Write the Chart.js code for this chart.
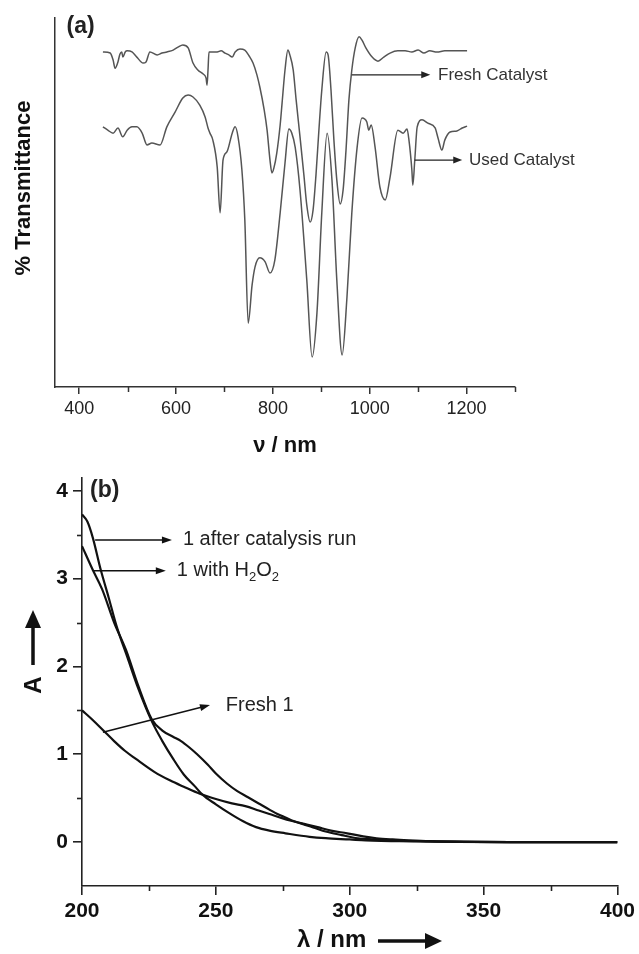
<!DOCTYPE html>
<html>
<head>
<meta charset="utf-8">
<title>IR and UV-vis spectra</title>
<script src="https://cdn.jsdelivr.net/npm/chart.js@4.4.1/dist/chart.umd.min.js"></script>
<style>
  html, body { margin: 0; padding: 0; background: #fff; }
  #wrap { width: 639px; height: 954px; }
  canvas { display: block; }
</style>
</head>
<body>
<div id="wrap">
  <canvas id="irChart" width="639" height="460"></canvas>
  <canvas id="uvChart" width="639" height="494"></canvas>
</div>
<script>
"use strict";

/**************************************************************
 * Data - panel (a), IR spectra (arbitrary % transmittance)
 **************************************************************/
const freshNm = [
  449, 464, 470, 474, 480, 484, 488, 490, 495, 499, 509, 519, 532, 538, 546,
  561, 571, 581, 594, 604, 614, 625, 635, 645, 656, 662, 664, 666, 668, 676,
  685, 693, 701, 709, 716, 722, 732, 742, 751, 759, 767, 773, 782, 788, 794,
  798, 802, 808, 815, 819, 825, 831, 835, 842, 848, 856, 864, 870, 877, 883,
  889, 895, 901, 910, 914, 920, 926, 932, 939, 945, 951, 957, 963, 970, 978,
  984, 992, 1005, 1017, 1029, 1042, 1058, 1073, 1087, 1100, 1112, 1124, 1139,
  1155, 1176, 1201,
];
const freshT = [
  90.8, 90.5, 88.6, 86.4, 88.1, 90.2, 90.8, 89.4, 90.8, 91.1, 90.8, 89.4, 87.8,
  88.1, 90.8, 90.0, 90.5, 90.8, 91.3, 92.1, 92.7, 91.9, 87.8, 85.9, 84.8, 83.7,
  81.8, 85.9, 90.8, 90.8, 90.8, 91.1, 90.5, 90.0, 89.4, 90.8, 91.6, 91.3, 89.7,
  87.8, 84.6, 81.3, 75.1, 69.6, 61.5, 58.0, 59.3, 63.4, 71.0, 77.0, 85.9, 91.3,
  90.0, 85.9, 77.8, 67.8, 57.5, 49.3, 44.7, 48.0, 57.5, 69.6, 80.5, 90.8, 90.0,
  80.5, 66.9, 56.1, 49.6, 53.4, 64.2, 77.8, 85.9, 91.9, 94.9, 94.0, 91.9, 89.4,
  88.3, 89.4, 90.5, 91.1, 91.1, 90.8, 91.3, 90.5, 91.1, 90.8, 91.1, 91.1, 91.1,
];

const usedNm = [
  449, 459, 470, 480, 490, 499, 509, 519, 530, 540, 550, 567, 581, 598, 614,
  625, 635, 649, 660, 666, 670, 676, 685, 691, 697, 705, 716, 722, 728, 736,
  742, 749, 757, 763, 773, 784, 794, 804, 815, 825, 833, 839, 846, 856, 870,
  881, 891, 901, 912, 922, 932, 943, 953, 963, 974, 984, 994, 998, 1003, 1011,
  1021, 1032, 1042, 1058, 1069, 1077, 1081, 1087, 1089, 1093, 1098, 1108, 1120,
  1135, 1141, 1149, 1155, 1166, 1180, 1191, 1201,
];
const usedT = [
  70.5, 69.6, 68.8, 70.2, 67.8, 69.6, 70.5, 70.5, 68.8, 65.6, 66.1, 65.6, 70.5,
  74.5, 78.3, 79.1, 78.6, 76.4, 73.2, 70.2, 68.8, 66.9, 59.6, 47.2, 61.5, 63.7,
  68.8, 70.5, 67.8, 58.8, 45.3, 17.3, 27.6, 32.5, 35.0, 33.9, 30.9, 34.4, 47.2,
  60.7, 69.9, 68.8, 65.0, 53.4, 29.0, 8.1, 20.1, 47.2, 68.8, 56.1, 29.0, 8.7,
  24.4, 47.2, 65.0, 72.9, 71.8, 69.6, 71.0, 65.0, 54.2, 50.7, 56.9, 69.6, 68.8,
  69.9, 66.9, 58.8, 54.7, 61.5, 70.5, 72.4, 71.5, 70.2, 67.5, 64.2, 66.9, 69.1,
  69.4, 70.2, 70.7,
];

const irMajorTicks = [400, 600, 800, 1000, 1200];
const irMinorTicks = [500, 700, 900, 1100, 1300];

/**************************************************************
 * Data - panel (b), UV-vis absorbance
 **************************************************************/
const afterRunNm = [
  200, 202, 204, 207, 210, 213, 217, 221, 226, 230, 234, 238, 242, 245, 250,
  255, 260, 265, 270, 276, 285, 291, 300, 306, 320, 340, 360, 400,
];
const afterRunA = [
  3.73, 3.65, 3.47, 3.1, 2.78, 2.45, 2.1, 1.75, 1.38, 1.15, 0.95, 0.77, 0.64,
  0.54, 0.43, 0.33, 0.24, 0.17, 0.13, 0.1, 0.06, 0.044, 0.03, 0.02, 0.01, 0.005,
  0, 0,
];

const h2o2Nm = [
  200, 204, 207.5, 212, 216.4, 221, 226, 230, 234, 237, 240, 243, 247, 250, 254,
  258, 262, 266, 270, 273, 276, 279, 284, 288, 293, 299, 305, 310, 316, 322,
  330, 345, 360, 400,
];
const h2o2A = [
  3.37, 3.1, 2.88, 2.5, 2.19, 1.78, 1.4, 1.27, 1.2, 1.15, 1.08, 1.0, 0.88, 0.78,
  0.67, 0.58, 0.51, 0.44, 0.37, 0.32, 0.28, 0.24, 0.2, 0.17, 0.13, 0.1, 0.065,
  0.044, 0.03, 0.02, 0.01, 0.003, 0, 0,
];

const fresh1Nm = [
  200, 204, 208, 212, 216, 220, 227, 233, 238, 244, 250, 256, 261, 266, 270,
  275, 282, 287, 291, 297, 303, 309, 314, 325, 340, 360, 400,
];
const fresh1A = [
  1.5, 1.39, 1.27, 1.15, 1.04, 0.95, 0.8, 0.7, 0.63, 0.55, 0.49, 0.44, 0.41,
  0.36, 0.32, 0.27, 0.21, 0.16, 0.12, 0.08, 0.044, 0.03, 0.02, 0.01, 0.003, 0, 0,
];

const uvXTicks = [200, 250, 300, 350, 400];
const uvXMinor = [225, 275, 325, 375];
const uvYTicks = [0, 1, 2, 3, 4];
const uvYMinor = [0.5, 1.5, 2.5, 3.5];

/**************************************************************
 * Helpers
 **************************************************************/
const FONT = '"Liberation Sans", Arial, Helvetica, sans-serif';

function toPoints(xs, ys) {
  return xs.map((x, i) => ({ x: x, y: ys[i] }));
}

function fixedTicks(values) {
  return (scale) => {
    scale.ticks = values.map((v) => ({ value: v }));
  };
}

function plainLabel(value) {
  return String(value);
}

function arrow(ctx, x1, y1, x2, y2, head, half, width, color) {
  const ang = Math.atan2(y2 - y1, x2 - x1);
  const bx = x2 - head * Math.cos(ang);
  const by = y2 - head * Math.sin(ang);

  ctx.save();
  ctx.strokeStyle = color;
  ctx.fillStyle = color;
  ctx.lineWidth = width;
  ctx.beginPath();
  ctx.moveTo(x1, y1);
  ctx.lineTo(bx + Math.cos(ang), by + Math.sin(ang));
  ctx.stroke();

  ctx.beginPath();
  ctx.moveTo(x2, y2);
  ctx.lineTo(bx + half * Math.sin(ang), by - half * Math.cos(ang));
  ctx.lineTo(bx - half * Math.sin(ang), by + half * Math.cos(ang));
  ctx.closePath();
  ctx.fill();
  ctx.restore();
}

function minorTicksX(ctx, scale, values, len, width, color) {
  ctx.save();
  ctx.strokeStyle = color;
  ctx.lineWidth = width;
  values.forEach((v) => {
    const px = Math.round(scale.getPixelForValue(v)) + 0.5;
    ctx.beginPath();
    ctx.moveTo(px, scale.top);
    ctx.lineTo(px, scale.top + len);
    ctx.stroke();
  });
  ctx.restore();
}

function minorTicksY(ctx, scale, values, len, width, color) {
  ctx.save();
  ctx.strokeStyle = color;
  ctx.lineWidth = width;
  values.forEach((v) => {
    const py = Math.round(scale.getPixelForValue(v)) + 0.5;
    ctx.beginPath();
    ctx.moveTo(scale.right - len, py);
    ctx.lineTo(scale.right, py);
    ctx.stroke();
  });
  ctx.restore();
}

function text(ctx, str, x, y, font, align, color) {
  ctx.save();
  ctx.font = font;
  ctx.textAlign = align || "left";
  ctx.textBaseline = "middle";
  ctx.fillStyle = color || "#222";
  ctx.fillText(str, x, y);
  ctx.restore();
}

/**************************************************************
 * Panel (a) decorations
 **************************************************************/
const irDecor = {
  id: "irDecor",
  afterDraw(chart) {
    const ctx = chart.ctx;
    const x = chart.scales.x;
    const y = chart.scales.y;
    const note = "17px " + FONT;

    minorTicksX(ctx, x, irMinorTicks, 5, 1.5, "#333");

    text(ctx, "(a)", x.getPixelForValue(374), y.getPixelForValue(97.6), "bold 23px " + FONT);

    // axis titles
    ctx.save();
    ctx.translate(24, 188);
    ctx.rotate(-Math.PI / 2);
    text(ctx, "% Transmittance", 0, 0, "bold 22px " + FONT, "center", "#111");
    ctx.restore();
    text(ctx, "\u03bd / nm", (x.left + x.right) / 2, 446, "bold 22px " + FONT, "center", "#111");

    // labels with arrows
    const fy = y.getPixelForValue(84.6);
    arrow(ctx, x.getPixelForValue(963), fy, x.getPixelForValue(1125), fy, 9, 3.5, 1.3, "#222");
    text(ctx, "Fresh Catalyst", x.getPixelForValue(1141), fy, note, "left", "#333");

    const uy = y.getPixelForValue(61.5);
    arrow(ctx, x.getPixelForValue(1093), uy, x.getPixelForValue(1191), uy, 9, 3.5, 1.3, "#222");
    text(ctx, "Used Catalyst", x.getPixelForValue(1205), uy, note, "left", "#333");
  },
};

new Chart(document.getElementById("irChart"), {
  type: "line",
  data: {
    datasets: [
      {
        label: "Fresh Catalyst",
        data: toPoints(freshNm, freshT),
        borderColor: "#555",
        borderWidth: 1.5,
        pointRadius: 0,
        cubicInterpolationMode: "monotone",
        fill: false,
      },
      {
        label: "Used Catalyst",
        data: toPoints(usedNm, usedT),
        borderColor: "#555",
        borderWidth: 1.5,
        pointRadius: 0,
        cubicInterpolationMode: "monotone",
        fill: false,
      },
    ],
  },
  options: {
    responsive: false,
    animation: false,
    layout: { padding: { top: 18, right: 124, left: 0, bottom: 0 } },
    plugins: { legend: { display: false }, tooltip: { enabled: false } },
    scales: {
      x: {
        type: "linear",
        min: 350,
        max: 1300,
        afterBuildTicks: fixedTicks(irMajorTicks),
        afterFit: (s) => { s.height = 73; },
        ticks: {
          color: "#222",
          font: { family: FONT, size: 18 },
          padding: 4,
          maxRotation: 0,
          autoSkip: false,
          callback: plainLabel,
        },
        grid: { drawOnChartArea: false, tickLength: 7, color: "#333", lineWidth: 1.5 },
        border: { color: "#333", width: 1.5 },
      },
      y: {
        min: 0,
        max: 100,
        afterFit: (s) => { s.width = 55; },
        ticks: { display: false },
        grid: { display: false },
        border: { color: "#333", width: 1.5 },
      },
    },
  },
  plugins: [irDecor],
});

/**************************************************************
 * Panel (b) decorations
 **************************************************************/
const uvDecor = {
  id: "uvDecor",
  afterDraw(chart) {
    const ctx = chart.ctx;
    const x = chart.scales.x;
    const y = chart.scales.y;
    const note = "20px " + FONT;

    minorTicksX(ctx, x, uvXMinor, 5, 1.6, "#222");
    minorTicksY(ctx, y, uvYMinor, 5, 1.6, "#222");

    text(ctx, "(b)", x.getPixelForValue(203), y.getPixelForValue(4.0), "bold 23px " + FONT);

    // y title: A with arrow pointing up
    ctx.save();
    ctx.translate(33, 225);
    ctx.rotate(-Math.PI / 2);
    text(ctx, "A", 0, 1, "bold 24px " + FONT, "center", "#111");
    arrow(ctx, 20, 0, 75, 0, 18, 8, 3.5, "#111");
    ctx.restore();

    // x title: lambda / nm with arrow pointing right
    text(ctx, "\u03bb / nm", 297, 480, "bold 24px " + FONT, "left", "#111");
    arrow(ctx, 378, 481, 442, 481, 17, 8, 3.5, "#111");

    // labels with arrows
    const ay = y.getPixelForValue(3.44);
    arrow(ctx, x.getPixelForValue(204.9), ay, x.getPixelForValue(233.6), ay, 10, 3.5, 1.6, "#111");
    text(ctx, "1 after catalysis run", x.getPixelForValue(237.7), ay, note, "left", "#222");

    const hy = y.getPixelForValue(3.09);
    arrow(ctx, x.getPixelForValue(204.1), hy, x.getPixelForValue(231.3), hy, 10, 3.5, 1.6, "#111");
    let tx = x.getPixelForValue(235.4);
    ctx.save();
    const parts = [["1 with H", 0, 20], ["2", 7, 13], ["O", 0, 20], ["2", 7, 13]];
    parts.forEach((p) => {
      ctx.font = p[2] + "px " + FONT;
      text(ctx, p[0], tx, hy + p[1], ctx.font, "left", "#222");
      tx += ctx.measureText(p[0]).width;
    });
    ctx.restore();

    arrow(
      ctx,
      x.getPixelForValue(207.8), y.getPixelForValue(1.25),
      x.getPixelForValue(247.8), y.getPixelForValue(1.56),
      10, 3.5, 1.6, "#111",
    );
    text(ctx, "Fresh 1", x.getPixelForValue(253.7), y.getPixelForValue(1.55), note, "left", "#222");
  },
};

function uvSeries(label, xs, ys) {
  return {
    label: label,
    data: toPoints(xs, ys),
    borderColor: "#111",
    borderWidth: 2.2,
    pointRadius: 0,
    cubicInterpolationMode: "monotone",
    fill: false,
  };
}

new Chart(document.getElementById("uvChart"), {
  type: "line",
  data: {
    datasets: [
      uvSeries("1 after catalysis run", afterRunNm, afterRunA),
      uvSeries("1 with H2O2", h2o2Nm, h2o2A),
      uvSeries("Fresh 1", fresh1Nm, fresh1A),
    ],
  },
  options: {
    responsive: false,
    animation: false,
    layout: { padding: { top: 2, right: 21, left: 0, bottom: 0 } },
    plugins: { legend: { display: false }, tooltip: { enabled: false } },
    scales: {
      x: {
        type: "linear",
        min: 200,
        max: 400,
        afterBuildTicks: fixedTicks(uvXTicks),
        afterFit: (s) => { s.height = 68; },
        ticks: {
          color: "#111",
          font: { family: FONT, size: 21, weight: "bold" },
          padding: 4,
          maxRotation: 0,
          autoSkip: false,
          callback: plainLabel,
        },
        grid: { drawOnChartArea: false, tickLength: 9, color: "#222", lineWidth: 1.6 },
        border: { color: "#222", width: 1.6 },
      },
      y: {
        min: -0.5,
        max: 4.15,
        afterBuildTicks: fixedTicks(uvYTicks),
        afterFit: (s) => { s.width = 82; },
        ticks: {
          color: "#111",
          font: { family: FONT, size: 21, weight: "bold" },
          padding: 5,
          callback: plainLabel,
        },
        grid: { drawOnChartArea: false, tickLength: 9, color: "#222", lineWidth: 1.6 },
        border: { color: "#222", width: 1.6 },
      },
    },
  },
  plugins: [uvDecor],
});
</script>
</body>
</html>
